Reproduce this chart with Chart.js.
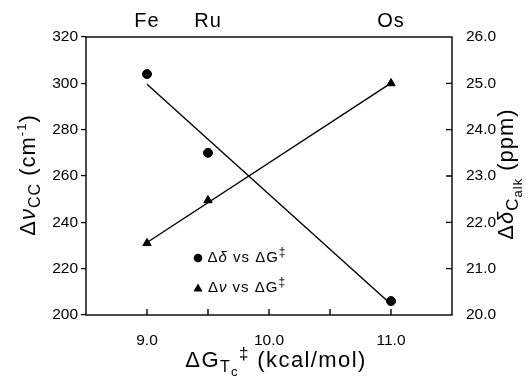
<!DOCTYPE html>
<html><head><meta charset="utf-8">
<script src="https://cdn.jsdelivr.net/npm/chart.js@4"></script>
<style>html,body{margin:0;padding:0;background:#fff}#wrap{width:532px;height:376px}</style>
</head><body><div id="wrap"><canvas id="c" width="532" height="376"></canvas></div>
<script>
const metals = ['Fe', 'Ru', 'Os'];
const dG = [9.0, 9.5, 11.0];
const deltaShift = [25.2, 23.5, 20.3];      // Δδ (ppm), right axis
const deltaNu = [231, 249.5, 300];          // Δν (cm-1), left axis
const shiftFitX = [9.0, 11.0];
const shiftFitY = [24.98, 20.23];
const nuFitX = [9.0, 11.0];
const nuFitY = [231.3, 300.1];
const xTicks = [9.0, 10.0, 11.0];
const xMinorTicks = [9.0, 9.5, 10.0, 10.5, 11.0];
const rightTicks = [21, 22, 23, 24, 25];

const FONT = '"Liberation Sans", Arial, Helvetica, sans-serif';
const pts = (xs, ys) => xs.map((x, i) => ({x, y: ys[i]}));

function rich(ctx, parts, x, y, ls) {
  ctx.letterSpacing = (ls || 0) + 'px';
  let w = 0;
  parts.forEach(p => { ctx.font = (p.i ? 'italic ' : '') + p.s + 'px ' + FONT; w += ctx.measureText(p.t).width; });
  let cx = x - w / 2;
  parts.forEach(p => {
    ctx.font = (p.i ? 'italic ' : '') + p.s + 'px ' + FONT;
    ctx.fillText(p.t, cx, y + (p.dy || 0));
    cx += ctx.measureText(p.t).width;
  });
  ctx.letterSpacing = '0px';
}

const deco = {
  id: 'deco',
  afterDraw(chart) {
    const ctx = chart.ctx, a = chart.chartArea;
    const xs = chart.scales.x, yr = chart.scales.yR;
    ctx.save();
    ctx.strokeStyle = '#000'; ctx.lineWidth = 1.4;
    ctx.strokeRect(a.left, a.top, a.right - a.left, a.bottom - a.top);
    ctx.beginPath();
    xMinorTicks.forEach(v => { const px = xs.getPixelForValue(v); ctx.moveTo(px, a.bottom); ctx.lineTo(px, a.bottom - 6); });
    rightTicks.forEach(v => { const py = yr.getPixelForValue(v); ctx.moveTo(a.right, py); ctx.lineTo(a.right - 6, py); });
    ctx.stroke();
    ctx.fillStyle = '#000';
    ctx.textBaseline = 'alphabetic'; ctx.textAlign = 'left';
    // top metal labels
    metals.forEach((m, i) => rich(ctx, [{t: m, s: 20}], xs.getPixelForValue(dG[i]), 27, 1));
    // bottom title
    rich(ctx, [{t: 'ΔG', s: 22}, {t: 'T', s: 16, dy: 5}, {t: 'c', s: 13, dy: 9}, {t: '‡', s: 17, dy: -8}, {t: ' (kcal/mol)', s: 22}], 276, 367, 1.4);
    // left title
    ctx.save(); ctx.translate(35, 175); ctx.rotate(-Math.PI / 2);
    rich(ctx, [{t: 'Δ', s: 22}, {t: 'ν', s: 22, i: true}, {t: 'CC', s: 16, dy: 5}, {t: ' (cm', s: 22}, {t: '-1', s: 13, dy: -9}, {t: ')', s: 22}], 0, 0, 1);
    ctx.restore();
    // right title
    ctx.save(); ctx.translate(513, 174); ctx.rotate(-Math.PI / 2);
    rich(ctx, [{t: 'Δ', s: 22}, {t: 'δ', s: 22, i: true}, {t: 'C', s: 17, dy: 5}, {t: 'alk', s: 13, dy: 9}, {t: ' (ppm)', s: 22}], 0, 0, 1);
    ctx.restore();
    // legend
    const lx = 198, ly1 = 258, ly2 = 288;
    ctx.beginPath(); ctx.arc(lx, ly1, 4.3, 0, Math.PI * 2); ctx.fill();
    ctx.beginPath(); ctx.moveTo(lx, ly2 - 4.5); ctx.lineTo(lx + 4.5, ly2 + 3.5); ctx.lineTo(lx - 4.5, ly2 + 3.5); ctx.closePath(); ctx.fill();
    ctx.textBaseline = 'middle';
    rich(ctx, [{t: 'Δ', s: 15}, {t: 'δ', s: 15, i: true}, {t: ' vs ΔG', s: 15}, {t: '‡', s: 12, dy: -5}], 247, ly1, 1);
    rich(ctx, [{t: 'Δ', s: 15}, {t: 'ν', s: 15, i: true}, {t: ' vs ΔG', s: 15}, {t: '‡', s: 12, dy: -5}], 247, ly2, 1);
    ctx.restore();
  }
};

new Chart(document.getElementById('c'), {
  type: 'scatter',
  data: {
    datasets: [
      {data: pts(dG, deltaShift), yAxisID: 'yR', pointStyle: 'circle', pointRadius: 4.5, backgroundColor: '#000', borderColor: '#000', showLine: false},
      {data: pts(shiftFitX, shiftFitY), yAxisID: 'yR', showLine: true, pointRadius: 0, borderColor: '#000', borderWidth: 1.4},
      {data: pts(dG, deltaNu), yAxisID: 'y', pointStyle: 'triangle', pointRadius: 4.8, backgroundColor: '#000', borderColor: '#000', showLine: false},
      {data: pts(nuFitX, nuFitY), yAxisID: 'y', showLine: true, pointRadius: 0, borderColor: '#000', borderWidth: 1.4}
    ]
  },
  options: {
    responsive: false, animation: false, devicePixelRatio: 1,
    layout: {padding: {top: 37, left: 0, right: 0, bottom: 0}},
    plugins: {legend: {display: false}, tooltip: {enabled: false}},
    scales: {
      x: {
        type: 'linear', position: 'bottom', min: 8.5, max: 11.5,
        afterBuildTicks: s => { s.ticks = xTicks.map(v => ({value: v})); },
        afterFit: s => { s.height = 61; },
        grid: {display: false}, border: {display: false},
        ticks: {color: '#000', font: {family: FONT, size: 15.5}, padding: 8, callback: v => Number(v).toFixed(1), maxRotation: 0}
      },
      y: {
        position: 'left', min: 200, max: 320,
        afterFit: s => { s.width = 86; },
        grid: {display: true, drawOnChartArea: false, drawTicks: true, tickLength: 5, color: '#000', lineWidth: 1.2},
        border: {display: false},
        ticks: {stepSize: 20, color: '#000', font: {family: FONT, size: 15.5}, padding: 3}
      },
      yR: {
        position: 'right', min: 20, max: 26,
        afterFit: s => { s.width = 80; },
        grid: {display: false}, border: {display: false},
        ticks: {stepSize: 1, color: '#000', font: {family: FONT, size: 15.5}, padding: 6, callback: v => Number(v).toFixed(1)}
      }
    }
  },
  plugins: [deco]
});
</script>
</body></html>
